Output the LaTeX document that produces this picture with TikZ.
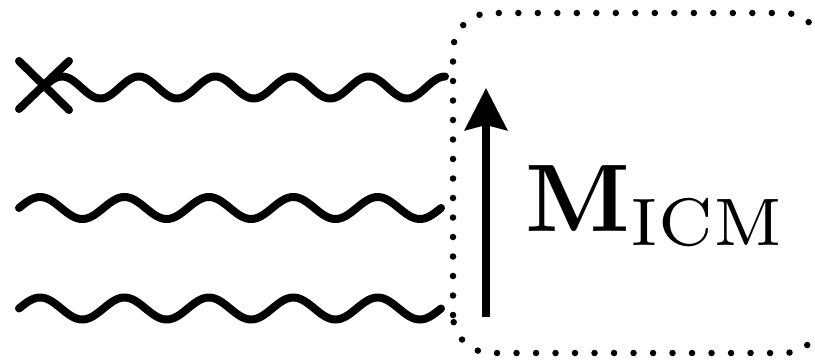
\documentclass[tikz,border=0pt]{standalone}
\usetikzlibrary{arrows.meta}
\tikzset{
  wave/.style={line width=8pt, line cap=round, line join=round},
  crossline/.style={line width=8pt, line cap=round},
  dotbox/.style={line width=6.5pt, line cap=round, dash pattern=on 0pt off 19.5pt, rounded corners=38pt},
  bigarrow/.style={line width=8pt, -{Stealth[length=42pt,width=42pt,inset=5pt]}},
}
\begin{document}
\begin{tikzpicture}[x=1pt,y=-1pt]
\useasboundingbox (0,0) rectangle (815,360);
% dotted rounded box
\draw[dotbox] (453,353) rectangle (822,13);
% wavy lines
\draw[wave] plot[domain=0:402, samples=240] ({43+\x}, {87.5 - 11*sin(\x/76.6*360)});
\draw[wave] plot[domain=0:422, samples=240] ({19+\x}, {208 - 11*sin(\x/84.4*360)});
\draw[wave] plot[domain=0:422, samples=240] ({19+\x}, {308.5 - 11*sin(\x/84.4*360)});
% cross
\coordinate (c1) at (19,61);
\coordinate (c2) at (69,110);
\coordinate (c3) at (69,61);
\coordinate (c4) at (19,109);
\draw[crossline] (c1) -- (c2) (c3) -- (c4);
% arrow
\coordinate (arrS) at (486,317);
\coordinate (arrE) at (486,88);
\draw[bigarrow] (arrS) -- (arrE);
% label
\node[anchor=base west, inner sep=0pt, scale=9.6] (lab) at (524,231) {$\mathbf{M}_{\rm ICM}$};
\end{tikzpicture}
\end{document}
